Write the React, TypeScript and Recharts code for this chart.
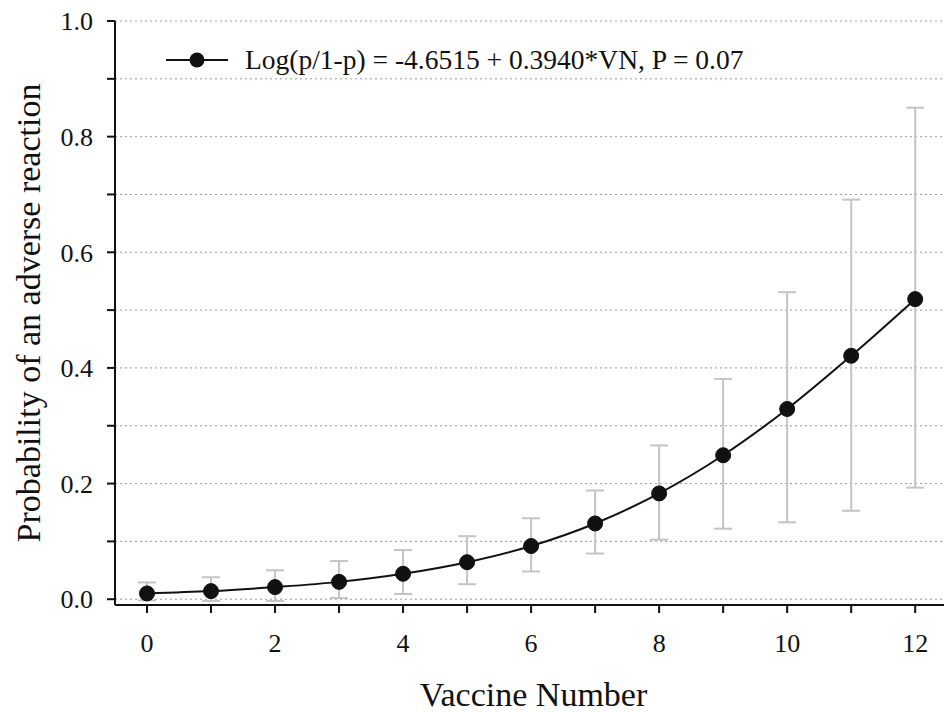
import {
  LineChart,
  Line,
  XAxis,
  YAxis,
  CartesianGrid,
  ErrorBar,
  Legend,
  Label,
} from 'recharts'

const vaccineNumbers = [0, 1, 2, 3, 4, 5, 6, 7, 8, 9, 10, 11, 12]
const probability = [0.01, 0.014, 0.021, 0.03, 0.044, 0.064, 0.092, 0.131, 0.183, 0.249, 0.329, 0.421, 0.519]
const upperCI = [0.029, 0.038, 0.05, 0.066, 0.085, 0.109, 0.14, 0.188, 0.266, 0.381, 0.531, 0.691, 0.85]
const lowerCI = [-0.002, -0.003, -0.003, 0.002, 0.009, 0.026, 0.048, 0.079, 0.103, 0.122, 0.133, 0.153, 0.193]

const xTicks = [0, 1, 2, 3, 4, 5, 6, 7, 8, 9, 10, 11, 12]
const yTicks = [0, 0.1, 0.2, 0.3, 0.4, 0.5, 0.6, 0.7, 0.8, 0.9, 1.0]

const legendText = 'Log(p/1-p) = -4.6515 + 0.3940*VN, P = 0.07'

const data = vaccineNumbers.map((vn, i) => ({
  vn,
  p: probability[i],
  err: [probability[i] - lowerCI[i], upperCI[i] - probability[i]],
}))

const font = '"Liberation Serif", "Times New Roman", serif'
const ink = '#111'

function LegendBox() {
  return (
    <div style={{ display: 'flex', alignItems: 'center', fontFamily: font, whiteSpace: 'nowrap' }}>
      <svg width={64} height={20}>
        <line x1={0} y1={10} x2={62} y2={10} stroke={ink} strokeWidth={2} />
        <circle cx={31} cy={10} r={7.5} fill={ink} />
      </svg>
      <span style={{ fontSize: 27.5, color: ink, marginLeft: 15 }}>{legendText}</span>
    </div>
  )
}

export default function App() {
  return (
    <div style={{ position: 'absolute', left: 0, top: 0, background: '#fff' }}>
      <LineChart
        width={944}
        height={712}
        data={data}
        margin={{ top: 21, right: 0, bottom: 0, left: 0 }}
        style={{ fontFamily: font }}
      >
        <CartesianGrid vertical={false} stroke="#999" strokeDasharray="2 3" />
        <XAxis
          dataKey="vn"
          type="number"
          domain={[-0.5, 12.45]}
          ticks={xTicks}
          allowDataOverflow
          height={107}
          tickSize={8}
          tickMargin={21}
          stroke={ink}
          strokeWidth={2}
          tick={{ fill: ink, fontSize: 26, fontFamily: font }}
          tickFormatter={(v: number) => (v % 2 === 0 ? String(v) : '')}
        >
          <Label
            value="Vaccine Number"
            position="insideBottom"
            offset={6}
            dx={4}
            style={{ fontSize: 34, fill: ink, fontFamily: font }}
          />
        </XAxis>
        <YAxis
          type="number"
          domain={[-0.01, 1.0]}
          ticks={yTicks}
          allowDataOverflow
          width={115}
          tickSize={8}
          tickMargin={14}
          stroke={ink}
          strokeWidth={2}
          tick={{ fill: ink, fontSize: 26, fontFamily: font }}
          tickFormatter={(v: number) => (Math.round(v * 10) % 2 === 0 ? v.toFixed(1) : '')}
        >
          <Label
            value="Probability of an adverse reaction"
            angle={-90}
            position="insideLeft"
            offset={28}
            style={{ fontSize: 34, fill: ink, fontFamily: font, textAnchor: 'middle' }}
          />
        </YAxis>
        <Legend
          layout="horizontal"
          verticalAlign="middle"
          align="center"
          content={() => <LegendBox />}
          wrapperStyle={{ position: 'absolute', left: 166, top: 44, width: 'auto' }}
        />
        <Line
          dataKey="p"
          type="monotone"
          stroke={ink}
          strokeWidth={2}
          dot={{ r: 7.5, fill: ink, stroke: ink, strokeWidth: 1 }}
          activeDot={false}
          isAnimationActive={false}
        >
          <ErrorBar dataKey="err" direction="y" width={9} stroke="#c4c4c4" strokeWidth={2} />
        </Line>
      </LineChart>
    </div>
  )
}
